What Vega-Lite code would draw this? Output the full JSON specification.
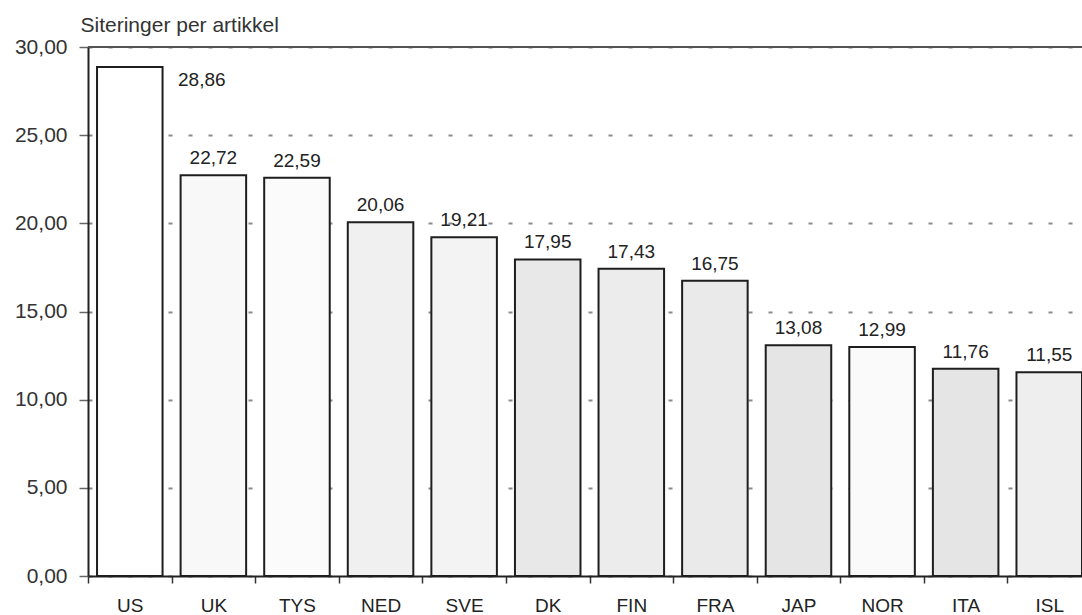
{
  "$schema": "https://vega.github.io/schema/vega-lite/v6.json",
  "autosize": "none",
  "width": 994,
  "height": 529,
  "padding": {"left": 88, "top": 47, "right": 0, "bottom": 39},
  "background": "#ffffff",
  "config": {
    "locale": {"number": {"decimal": ",", "thousands": ".", "grouping": [3], "currency": ["", " kr"]}},
    "view": {"stroke": null},
    "font": "Liberation Sans"
  },
  "data": {
    "values": [
      {"land": "US", "siteringer": 28.86},
      {"land": "UK", "siteringer": 22.72},
      {"land": "TYS", "siteringer": 22.59},
      {"land": "NED", "siteringer": 20.06},
      {"land": "SVE", "siteringer": 19.21},
      {"land": "DK", "siteringer": 17.95},
      {"land": "FIN", "siteringer": 17.43},
      {"land": "FRA", "siteringer": 16.75},
      {"land": "JAP", "siteringer": 13.08},
      {"land": "NOR", "siteringer": 12.99},
      {"land": "ITA", "siteringer": 11.76},
      {"land": "ISL", "siteringer": 11.55}
    ]
  },
  "layer": [
    {
      "encoding": {
        "x": {
          "field": "land",
          "type": "nominal",
          "sort": null,
          "scale": {"paddingInner": 0.216, "paddingOuter": 0.054, "align": 1},
          "axis": {
            "title": null,
            "labelAngle": 0,
            "labelFontSize": 19,
            "labelColor": "#222",
            "labelPadding": 13,
            "tickOffset": -41.8,
            "labelOffset": 41.8,
            "tickSize": 7,
            "tickColor": "#333",
            "tickWidth": 1.5,
            "domainColor": "#222",
            "domainWidth": 2,
            "grid": false
          }
        },
        "y": {
          "field": "siteringer",
          "type": "quantitative",
          "scale": {"domain": [0, 30], "nice": false},
          "axis": {
            "values": [0, 5, 10, 15, 20, 25, 30],
            "format": ".2f",
            "title": "Siteringer per artikkel",
            "titleAngle": 0,
            "titleAlign": "left",
            "titleBaseline": "alphabetic",
            "titleX": -8,
            "titleY": -16,
            "titleFontSize": 21,
            "titleFontWeight": "normal",
            "titleColor": "#333",
            "labelFontSize": 21,
            "labelColor": "#333",
            "labelPadding": 12,
            "tickSize": 9,
            "tickColor": "#666",
            "tickWidth": 1.5,
            "domainColor": "#222",
            "domainWidth": 2,
            "grid": true,
            "gridColor": "#8a8a8a",
            "gridWidth": 2,
            "gridDash": [4, 16]
          }
        }
      },
      "layer": [
        {
          "mark": {"type": "bar", "stroke": "#1e1e1e", "strokeWidth": 2, "strokeOpacity": 1},
          "encoding": {
            "color": {
              "field": "land",
              "type": "nominal",
              "legend": null,
              "scale": {
                "domain": ["US", "UK", "TYS", "NED", "SVE", "DK", "FIN", "FRA", "JAP", "NOR", "ITA", "ISL"],
                "range": ["#ffffff", "#f8f8f8", "#fbfbfb", "#f0f0f0", "#f3f3f3", "#e8e8e8", "#ececec", "#eaeaea", "#e5e5e5", "#fafafa", "#e5e5e5", "#eeeeee"]
              }
            }
          }
        },
        {
          "transform": [{"filter": "datum.land != 'US'"}],
          "mark": {"type": "text", "fontSize": 19, "color": "#222", "baseline": "alphabetic", "dy": -11},
          "encoding": {"text": {"field": "siteringer", "type": "quantitative", "format": ".2f"}}
        },
        {
          "transform": [{"filter": "datum.land == 'US'"}],
          "mark": {"type": "text", "fontSize": 19, "color": "#222", "baseline": "alphabetic", "dx": 72, "dy": 19},
          "encoding": {"text": {"field": "siteringer", "type": "quantitative", "format": ".2f"}}
        }
      ]
    },
    {
      "mark": {"type": "rule", "color": "#555", "strokeWidth": 2},
      "encoding": {"y": {"datum": 30}}
    }
  ]
}
